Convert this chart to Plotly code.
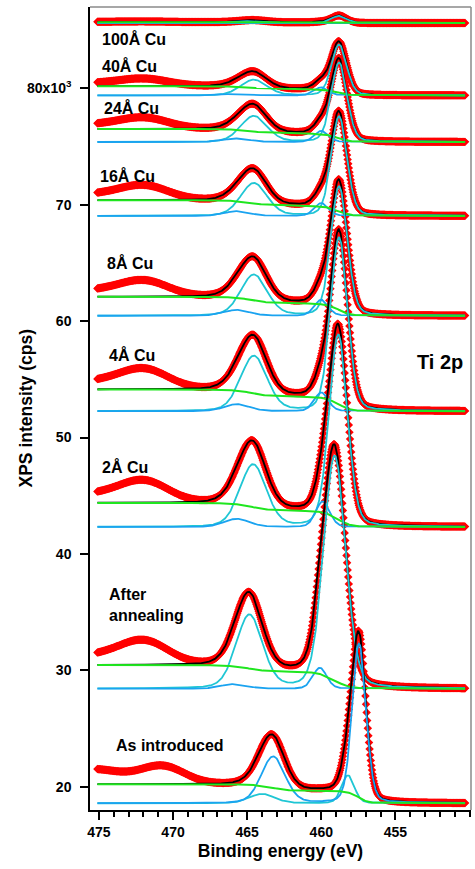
import numpy as np
import plotly.graph_objects as go

# ---------------- data ----------------
spectra = ["100Å Cu", "40Å Cu", "24Å Cu", "16Å Cu", "8Å Cu", "4Å Cu", "2Å Cu",
           "After<br>annealing", "As introduced"]
# level of the spectrum at low binding energy (x10^3 cps)
baseline = [85.62, 79.40, 75.40, 69.05, 60.47, 52.27, 42.32, 28.42, 18.58]
# Shirley background step (high-BE level minus low-BE level)
bg_step = [0.08, 0.80, 1.12, 1.35, 1.63, 1.87, 2.07, 2.03, 1.63]
# fitted components: (centre eV, height, FWHM eV)
cyan_peaks = [
    [(458.80, 0.62, 1.20), (464.55, 0.18, 2.1)],
    [(458.80, 4.36, 1.20), (464.55, 1.35, 2.1)],
    [(458.80, 6.80, 1.25), (464.55, 2.23, 2.1)],
    [(458.80, 8.53, 1.25), (464.55, 2.81, 2.1)],
    [(458.80, 11.1, 1.30), (464.55, 3.52, 2.1)],
    [(458.80, 14.9, 1.35), (464.55, 4.73, 2.1)],
    [(458.85, 16.5, 1.45), (464.60, 5.35, 2.1)],
    [(459.10, 20.0, 1.75), (464.85, 6.30, 2.1)],
    [(458.20, 2.40, 1.00), (464.00, 0.80, 2.0)],
]
blue_peaks = [
    [(460.0, 0.05, 1.1), (465.7, 0.02, 2.0)],
    [(460.0, 0.70, 1.1), (465.7, 0.15, 2.0)],
    [(460.0, 0.95, 1.1), (465.7, 0.30, 2.0)],
    [(460.0, 1.10, 1.1), (465.7, 0.40, 2.0)],
    [(460.0, 1.37, 1.1), (465.7, 0.50, 2.0)],
    [(460.0, 1.60, 1.1), (465.7, 0.60, 2.0)],
    [(459.9, 2.20, 1.1), (465.7, 0.70, 2.0)],
    [(460.1, 1.80, 1.1), (465.9, 0.40, 2.0)],
    [(457.45, 13.7, 1.10), (463.25, 4.00, 1.9)],
]
# un-fitted satellite structure seen in the measured points: (centre, height, FWHM)
sat_peaks = [
    [(472.0, 0.06, 3.9), (475.5, 0.02, 4.0)],
    [(472.0, 0.63, 3.9), (475.5, 0.22, 4.0)],
    [(472.0, 0.95, 3.9), (475.5, 0.33, 4.0)],
    [(472.0, 1.25, 3.9), (475.5, 0.44, 4.0)],
    [(472.0, 1.37, 3.9), (475.5, 0.48, 4.0)],
    [(472.0, 1.73, 3.9), (475.5, 0.60, 4.0)],
    [(472.0, 1.87, 3.9), (475.5, 0.65, 4.0)],
    [(472.0, 2.05, 3.9), (475.5, 0.72, 4.0)],
    [(470.7, 1.50, 3.5), (475.5, 1.30, 5.0)],
]
label_x = [474.91, 474.91, 474.78, 475.05, 474.58, 474.44, 474.91, 474.44, 473.97]
label_y = [84.24, 81.94, 78.28, 72.47, 64.97, 57.09, 47.49, 35.65, 23.58]

x_major = [475, 470, 465, 460, 455]
y_ticks = [20, 30, 40, 50, 60, 70, 80]
y_ticktext = ["20", "30", "40", "50", "60", "70", "80x10<sup>3</sup>"]

energy = np.round(np.arange(450.3, 475.1001, 0.04), 3)

RED, BLACK, GREEN, CYAN, BLUE = "#ff0000", "#000000", "#1fe61f", "#1fc6d4", "#1aa3f0"
FAMILY = "Liberation Sans, Arial, sans-serif"


def pv(e, c, h, w, eta=0.2):
    u = (e - c) / w
    return h * ((1 - eta) * np.exp(-4 * np.log(2) * u ** 2) + eta / (1 + 4 * u ** 2))


def gauss(e, c, h, w):
    u = (e - c) / w
    return h * np.exp(-4 * np.log(2) * u ** 2)


fig = go.Figure()
lines = []
for i, name in enumerate(spectra):
    cyan = sum(pv(energy, *p) for p in cyan_peaks[i])
    blue = sum(pv(energy, *p) for p in blue_peaks[i])
    total = cyan + blue
    cum = np.cumsum(total)
    shirley = cum / cum[-1]
    bg = baseline[i] + bg_step[i] * shirley
    fit = bg + total
    data = fit + sum(gauss(energy, *p) for p in sat_peaks[i])
    fig.add_trace(go.Scatter(x=energy, y=data, mode="markers",
                             marker=dict(symbol="diamond", size=6.5, color=RED, line=dict(width=0)),
                             showlegend=False, hoverinfo="skip"))
    lines.append((bg, baseline[i] + cyan, baseline[i] + blue, fit))

for bg, cy, bl, fit in lines:
    fig.add_trace(go.Scatter(x=energy, y=fit, mode="lines", line=dict(color=BLACK, width=1.8), showlegend=False))
    fig.add_trace(go.Scatter(x=energy, y=cy, mode="lines", line=dict(color=CYAN, width=1.8), showlegend=False))
    fig.add_trace(go.Scatter(x=energy, y=bl, mode="lines", line=dict(color=BLUE, width=1.8), showlegend=False))
    fig.add_trace(go.Scatter(x=energy, y=bg, mode="lines", line=dict(color=GREEN, width=2), showlegend=False))

font_b = dict(family=FAMILY, size=16, color="black", weight="bold")
for i, name in enumerate(spectra):
    fig.add_annotation(x=label_x[i], y=label_y[i], text=name, showarrow=False,
                       xanchor="left", yanchor="middle", align="left", font=font_b)
fig.add_annotation(x=453.7, y=56.51, text="Ti 2p", showarrow=False,
                   xanchor="left", yanchor="middle", font=dict(family=FAMILY, size=20, color="black", weight="bold"))
fig.add_annotation(x=-0.1706, y=0.5, xref="paper", yref="paper", text="XPS intensity (cps)", textangle=-90,
                   showarrow=False, xanchor="center", yanchor="middle",
                   font=dict(family=FAMILY, size=17.5, color="black", weight="bold"))

fig.add_shape(type="line", xref="paper", yref="paper", x0=0, x1=1, y0=1, y1=1,
              line=dict(color="#8a8a8a", width=1.5))
fig.add_shape(type="line", xref="paper", yref="paper", x0=1, x1=1, y0=0, y1=1,
              line=dict(color="#8a8a8a", width=1.5))

tick_font = dict(family=FAMILY, size=14, color="black", weight="bold")
fig.update_layout(
    width=475, height=869,
    margin=dict(l=90, r=4, t=7, b=59),
    paper_bgcolor="white", plot_bgcolor="white",
    showlegend=False,
    xaxis=dict(range=[475.6, 449.9], tickvals=x_major, ticks="outside", ticklen=8, tickwidth=1.5,
               tickcolor="black", showline=True, linecolor="black", linewidth=1.5,
               showgrid=False, zeroline=False, tickfont=tick_font,
               minor=dict(dtick=1, tick0=475, ticks="outside", ticklen=5, tickwidth=1.5, tickcolor="black",
                          showgrid=False),
               title=dict(text="Binding energy (eV)", standoff=6,
                          font=dict(family=FAMILY, size=17.5, color="black", weight="bold"))),
    yaxis=dict(range=[18.0, 87.0], tickvals=y_ticks, ticktext=y_ticktext, ticks="outside", ticklen=8,
               tickwidth=1.5, tickcolor="black", showline=True, linecolor="black", linewidth=1.5,
               showgrid=False, zeroline=False, tickfont=tick_font, ticklabelstandoff=6),
)
fig.write_html("out.html")
